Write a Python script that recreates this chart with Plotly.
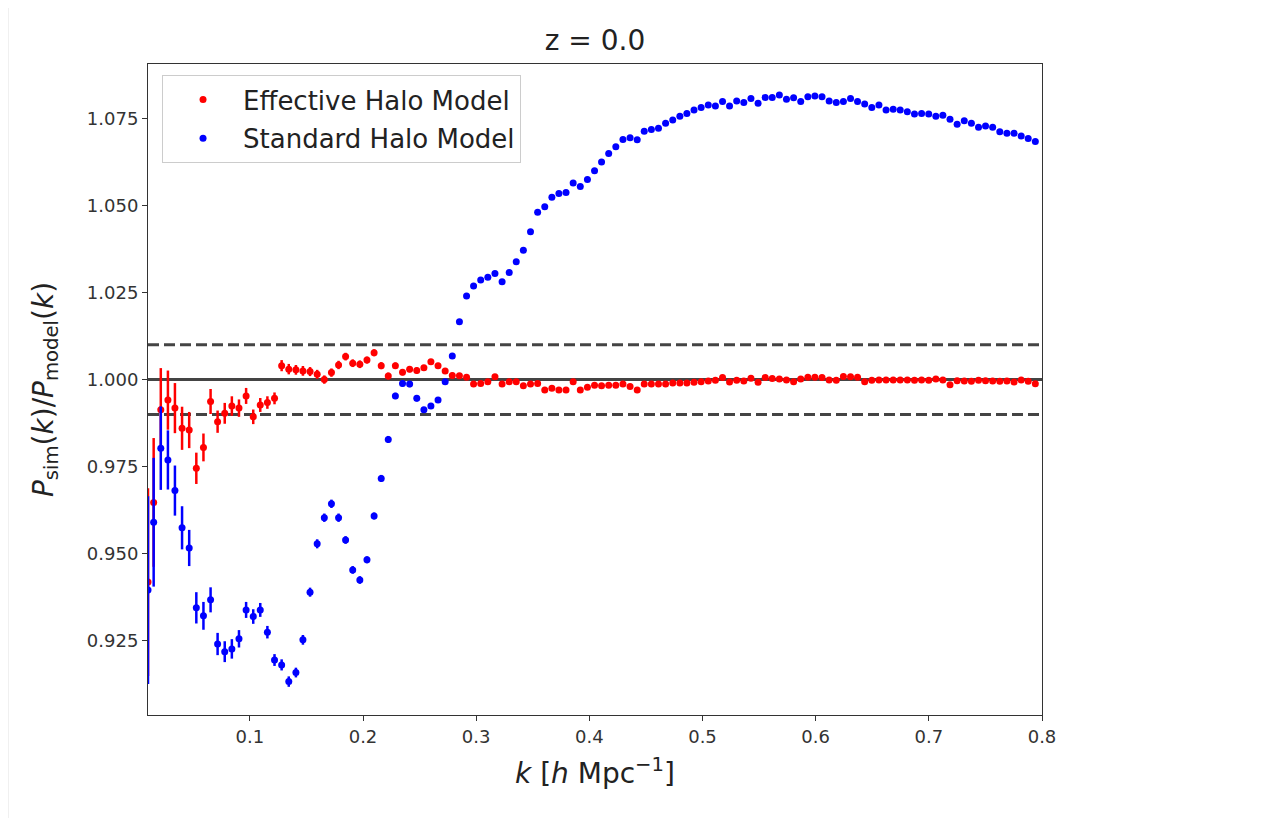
import plotly.graph_objects as go

# wavenumbers k [h/Mpc]
k = [0.0100, 0.0150, 0.0213, 0.0276, 0.0338, 0.0401, 0.0464, 0.0527, 0.0590, 0.0653,
     0.0715, 0.0778, 0.0841, 0.0904, 0.0967, 0.1030, 0.1092, 0.1155, 0.1218, 0.1281,
     0.1344, 0.1407, 0.1469, 0.1532, 0.1595, 0.1658, 0.1721, 0.1784, 0.1846, 0.1909,
     0.1972, 0.2035, 0.2098, 0.2161, 0.2223, 0.2286, 0.2349, 0.2412, 0.2475, 0.2538,
     0.2600, 0.2663, 0.2726, 0.2789, 0.2852, 0.2915, 0.2977, 0.3040, 0.3103, 0.3166,
     0.3229, 0.3292, 0.3354, 0.3417, 0.3480, 0.3543, 0.3606, 0.3669, 0.3731, 0.3794,
     0.3857, 0.3920, 0.3983, 0.4046, 0.4108, 0.4171, 0.4234, 0.4297, 0.4360, 0.4423,
     0.4485, 0.4548, 0.4611, 0.4674, 0.4737, 0.4800, 0.4862, 0.4925, 0.4988, 0.5051,
     0.5114, 0.5177, 0.5239, 0.5302, 0.5365, 0.5428, 0.5491, 0.5554, 0.5616, 0.5679,
     0.5742, 0.5805, 0.5868, 0.5931, 0.5993, 0.6056, 0.6119, 0.6182, 0.6245, 0.6308,
     0.6370, 0.6433, 0.6496, 0.6559, 0.6622, 0.6685, 0.6747, 0.6810, 0.6873, 0.6936,
     0.6999, 0.7062, 0.7124, 0.7187, 0.7250, 0.7313, 0.7376, 0.7439, 0.7501, 0.7564,
     0.7627, 0.7690, 0.7753, 0.7816, 0.7878, 0.7941]

# P_sim / P_model, effective halo model
ratio_eff = [0.9418, 0.9647, 0.9913, 0.9941, 0.9918, 0.9860, 0.9855, 0.9745, 0.9805, 0.9937,
             0.9879, 0.9903, 0.9924, 0.9918, 0.9953, 0.9893, 0.9927, 0.9934, 0.9946, 1.0040,
             1.0030, 1.0028, 1.0025, 1.0023, 1.0015, 1.0000, 1.0020, 1.0042, 1.0066, 1.0047,
             1.0044, 1.0056, 1.0077, 1.0040, 1.0010, 1.0040, 1.0021, 1.0030, 1.0026, 1.0034,
             1.0051, 1.0040, 1.0025, 1.0012, 1.0011, 1.0007, 0.9987, 0.9989, 0.9994, 1.0008,
             0.9987, 0.9994, 0.9994, 0.9982, 0.9987, 0.9989, 0.9970, 0.9975, 0.9970, 0.9970,
             0.9994, 0.9970, 0.9978, 0.9984, 0.9982, 0.9984, 0.9984, 0.9987, 0.9980, 0.9970,
             0.9987, 0.9987, 0.9987, 0.9987, 0.9990, 0.9990, 0.9990, 0.9992, 0.9994, 0.9996,
             0.9998, 1.0006, 0.9993, 0.9998, 0.9996, 1.0004, 0.9992, 1.0006, 1.0003, 1.0002,
             0.9999, 0.9994, 1.0002, 1.0007, 1.0007, 1.0006, 0.9999, 0.9998, 1.0009, 1.0008,
             1.0007, 0.9994, 0.9998, 0.9999, 0.9999, 0.9999, 0.9999, 0.9999, 0.9998, 0.9999,
             0.9998, 1.0002, 0.9999, 0.9985, 0.9997, 0.9996, 0.9995, 0.9998, 0.9997, 0.9996,
             0.9995, 0.9996, 0.9993, 0.9999, 0.9995, 0.9988]

# P_sim / P_model, standard halo model
ratio_std = [0.9395, 0.9590, 0.9803, 0.9769, 0.9681, 0.9574, 0.9516, 0.9344, 0.9321, 0.9367,
             0.9240, 0.9218, 0.9226, 0.9255, 0.9338, 0.9319, 0.9338, 0.9274, 0.9194, 0.9180,
             0.9132, 0.9158, 0.9252, 0.9389, 0.9528, 0.9603, 0.9643, 0.9603, 0.9539, 0.9453,
             0.9424, 0.9482, 0.9608, 0.9716, 0.9828, 0.9953, 0.9989, 0.9987, 0.9946, 0.9913,
             0.9924, 0.9941, 0.9994, 1.0068, 1.0166, 1.0240, 1.0269, 1.0286, 1.0294, 1.0305,
             1.0281, 1.0308, 1.0339, 1.0372, 1.0425, 1.0481, 1.0497, 1.0524, 1.0535, 1.0538,
             1.0565, 1.0555, 1.0575, 1.0600, 1.0625, 1.0650, 1.0669, 1.0690, 1.0695, 1.0689,
             1.0714, 1.0719, 1.0722, 1.0737, 1.0746, 1.0757, 1.0765, 1.0775, 1.0782, 1.0789,
             1.0786, 1.0799, 1.0786, 1.0801, 1.0796, 1.0808, 1.0794, 1.0811, 1.0811, 1.0818,
             1.0806, 1.0810, 1.0799, 1.0813, 1.0815, 1.0813, 1.0801, 1.0796, 1.0799, 1.0808,
             1.0799, 1.0792, 1.0782, 1.0789, 1.0775, 1.0777, 1.0775, 1.0770, 1.0763, 1.0765,
             1.0763, 1.0757, 1.0760, 1.0748, 1.0734, 1.0744, 1.0737, 1.0725, 1.0729, 1.0725,
             1.0712, 1.0708, 1.0708, 1.0700, 1.0693, 1.0684]

# 1-sigma errors on the ratio
err = [0.0270, 0.0185, 0.0120, 0.0085, 0.0072, 0.0062, 0.0052, 0.0045, 0.0040, 0.0036,
       0.0032, 0.0030, 0.0028, 0.0025, 0.0023, 0.0021, 0.0020, 0.0018, 0.0017, 0.0016,
       0.0015, 0.0014, 0.0014, 0.0013, 0.0013, 0.0012, 0.0012, 0.0012, 0.0011, 0.0011,
       0.0011, 0.0010, 0.0010, 0.0010, 0.0010, 0.0009, 0.0009, 0.0009, 0.0009, 0.0008,
       0.0008, 0.0008, 0.0008, 0.0008, 0.0007, 0.0007, 0.0007, 0.0007, 0.0007, 0.0007,
       0.0006, 0.0006, 0.0006, 0.0006, 0.0006, 0.0006, 0.0006, 0.0006, 0.0005, 0.0005,
       0.0005, 0.0005, 0.0005, 0.0005, 0.0005, 0.0005, 0.0005, 0.0005, 0.0005, 0.0005,
       0.0004, 0.0004, 0.0004, 0.0004, 0.0004, 0.0004, 0.0004, 0.0004, 0.0004, 0.0004,
       0.0004, 0.0004, 0.0004, 0.0004, 0.0004, 0.0004, 0.0004, 0.0004, 0.0004, 0.0004,
       0.0004, 0.0004, 0.0004, 0.0004, 0.0004, 0.0003, 0.0003, 0.0003, 0.0003, 0.0003,
       0.0003, 0.0003, 0.0003, 0.0003, 0.0003, 0.0003, 0.0003, 0.0003, 0.0003, 0.0003,
       0.0003, 0.0003, 0.0003, 0.0003, 0.0003, 0.0003, 0.0003, 0.0003, 0.0003, 0.0003,
       0.0003, 0.0003, 0.0003, 0.0003, 0.0003, 0.0003]

ref_levels = [1.0, 1.01, 0.99]
ref_dash = ["solid", "11px,5px", "11px,5px"]
y_ticks = [0.925, 0.950, 0.975, 1.000, 1.025, 1.050, 1.075]
x_ticks = [0.1, 0.2, 0.3, 0.4, 0.5, 0.6, 0.7, 0.8]
x_range = [0.0100, 0.8]
y_range = [0.9036, 1.0907]

FONT = "DejaVu Sans"
W, H = 1263, 810

fig = go.Figure()
for name, vals, col, grp in [("Effective Halo Model", ratio_eff, "#ff0000", "a"),
                             ("Standard Halo Model", ratio_std, "#0000ff", "b")]:
    fig.add_trace(go.Scatter(
        x=k, y=vals, mode="markers", name=name, legendgroup=grp,
        marker=dict(color=col, size=7, line=dict(width=0)),
        error_y=dict(type="data", array=err, visible=True, color=col,
                     thickness=2.5, width=0),
    ))

for lvl, d in zip(ref_levels, ref_dash):
    fig.add_shape(type="line", xref="paper", x0=0, x1=1, yref="y", y0=lvl, y1=lvl,
                  line=dict(color="#444444", width=3, dash=d), layer="below")

# notebook cell frame
fig.add_shape(type="line", xref="paper", yref="paper", x0=-0.1566, x1=-0.1566,
              y0=1.0906, y1=-0.2, line=dict(color="#e0e0e0", width=1))
fig.add_shape(type="line", xref="paper", yref="paper", x0=-0.1566, x1=1.3,
              y0=1.0906, y1=1.0906, line=dict(color="#e0e0e0", width=1))

axis_common = dict(showline=True, linecolor="#333333", linewidth=1, mirror=True,
                   ticks="outside", ticklen=5, tickcolor="#333333", showgrid=False,
                   zeroline=False, tickfont=dict(family=FONT, size=18, color="#333333"))

fig.update_xaxes(range=x_range, tickvals=x_ticks, ticktext=[f"{v:.1f}" for v in x_ticks],
                 title=dict(text="<i>k</i> [<i>h</i> Mpc<sup>−1</sup>]",
                            font=dict(family=FONT, size=28, color="#222222"), standoff=17),
                 **axis_common)
fig.update_yaxes(range=y_range, tickvals=y_ticks, ticktext=[f"{v:.3f}" for v in y_ticks],
                 title=dict(text="<i>P</i><sub>sim</sub>(<i>k</i>)/<i>P</i><sub>model</sub>(<i>k</i>)",
                            font=dict(family=FONT, size=28, color="#222222"), standoff=25),
                 **axis_common)

fig.update_layout(
    width=W, height=H,
    margin=dict(l=140, r=229, t=56, b=103),
    paper_bgcolor="white", plot_bgcolor="white",
    title=dict(text="z = 0.0", x=0.5, xref="paper", xanchor="center",
               y=1 - 32 / H, yref="container", yanchor="middle",
               font=dict(family=FONT, size=28, color="#222222")),
    legend=dict(x=0.0157, y=0.983, xanchor="left", yanchor="top",
                bgcolor="white", bordercolor="#cccccc", borderwidth=1,
                font=dict(family=FONT, size=26, color="#222222"),
                itemwidth=70, tracegroupgap=2),
    showlegend=True,
)

fig.write_html("out.html")
